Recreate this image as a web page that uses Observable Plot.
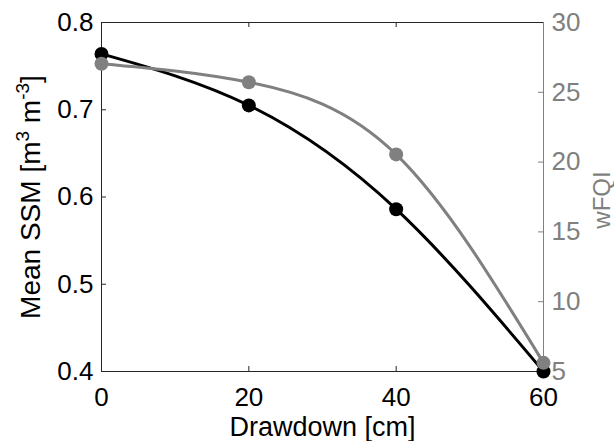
<!DOCTYPE html>
<html>
<head>
<meta charset="utf-8">
<script src="https://cdn.jsdelivr.net/npm/d3@7"></script>
<script src="https://cdn.jsdelivr.net/npm/@observablehq/plot@0.6"></script>
<style>
  html, body { margin: 0; padding: 0; background: #fff; }
  #chart { width: 614px; height: 441px; }
</style>
</head>
<body>
<div id="chart"></div>
<script>
// ---- data ----
const drawdown = [0, 20, 40, 60];
const ssm = [0.764, 0.705, 0.586, 0.400];
const wfqi = [27.05, 25.72, 20.55, 5.62];
const xTicks = [0, 20, 40, 60];
const ssmTicks = [0.4, 0.5, 0.6, 0.7, 0.8];
const wfqiTicks = [5, 10, 15, 20, 25, 30];
const xLabel = "Drawdown [cm]";
const yLabel = "Mean SSM [m3 m-3]";
const y2Label = "wFQI";

// dual-axis mapping: wFQI domain [5,30] onto SSM domain [0.4,0.8]
const ssmDomain = [0.4, 0.8];
const wDomain = [5, 30];
const toL = w => ssmDomain[0] + (w - wDomain[0]) * (ssmDomain[1] - ssmDomain[0]) / (wDomain[1] - wDomain[0]);
const fromL = v => wDomain[0] + (v - ssmDomain[0]) * (wDomain[1] - wDomain[0]) / (ssmDomain[1] - ssmDomain[0]);

const blackData = drawdown.map((d, i) => ({x: d, y: ssm[i]}));
const grayData = drawdown.map((d, i) => ({x: d, y: toL(wfqi[i])}));

const DARK = "#262626";
const GRAY = "#808080";
const W = 614, H = 441, mL = 101, mR = 71, mT = 22, mB = 70;
const pw = W - mL - mR, ph = H - mT - mB;
const tl = 5;

const chart = Plot.plot({
  width: W, height: H,
  marginLeft: mL, marginRight: mR, marginTop: mT, marginBottom: mB,
  style: {fontFamily: "'Liberation Sans', Arial, sans-serif", fontSize: "26px", background: "#fff", color: DARK},
  x: {domain: [0, 60]},
  y: {domain: ssmDomain},
  marks: [
    // frame
    Plot.ruleY([ssmDomain[0], ssmDomain[1]], {stroke: DARK, strokeWidth: 1}),
    Plot.ruleX([0], {stroke: DARK, strokeWidth: 1}),
    Plot.ruleX([60], {stroke: GRAY, strokeWidth: 1}),
    // inward ticks
    Plot.tickX(xTicks.slice(1, -1), {x: d => d, insetTop: ph - tl, stroke: DARK}),
    Plot.tickX(xTicks.slice(1, -1), {x: d => d, insetBottom: ph - tl, stroke: DARK}),
    Plot.tickY(ssmTicks.slice(1, -1), {y: d => d, insetRight: pw - tl, stroke: DARK}),
    Plot.tickY(wfqiTicks.slice(1, -1).map(toL), {y: d => d, insetLeft: pw - tl, stroke: GRAY}),
    // axes labels
    Plot.axisX(xTicks, {tickSize: 0, tickPadding: 16, label: null, color: "#000", fontSize: 26}),
    Plot.axisY(ssmTicks, {anchor: "left", tickSize: 0, tickPadding: 8, label: null, color: "#000", fontSize: 26, tickFormat: d3.format(".1f")}),
    Plot.axisY(wfqiTicks.map(toL), {anchor: "right", tickSize: 0, tickPadding: 8, label: null, color: GRAY, fontSize: 26, tickFormat: v => String(Math.round(fromL(v)))}),
    Plot.text([xLabel], {frameAnchor: "bottom", textAnchor: "middle", lineAnchor: "top", dy: 45, fontSize: 27, fill: "#000", text: d => d}),
    Plot.text([yLabel], {frameAnchor: "left", textAnchor: "middle", lineAnchor: "top", rotate: -90, dx: -81, fontSize: 28, fill: "#000", text: d => d}),
    Plot.text([y2Label], {frameAnchor: "right", textAnchor: "middle", lineAnchor: "top", rotate: -90, dx: 49, dy: 3, fontSize: 24, fill: GRAY, text: d => d}),
    // series
    Plot.line(blackData, {x: "x", y: "y", stroke: "#000", strokeWidth: 3, curve: "natural"}),
    Plot.dot(blackData, {x: "x", y: "y", r: 7, fill: "#000", stroke: "none"}),
    Plot.line(grayData, {x: "x", y: "y", stroke: GRAY, strokeWidth: 3, curve: "natural"}),
    Plot.dot(grayData, {x: "x", y: "y", r: 7, fill: GRAY, stroke: "none"})
  ]
});
document.getElementById("chart").appendChild(chart);

// superscripts in the left axis title
d3.select(chart).selectAll("text").each(function() {
  if (this.textContent === yLabel) {
    const t = d3.select(this);
    t.text(null);
    t.append("tspan").text("Mean SSM [m");
    t.append("tspan").attr("dy", "-11").attr("font-size", "19").text("3");
    t.append("tspan").attr("dy", "11").text(" m");
    t.append("tspan").attr("dy", "-11").attr("font-size", "19").text("-3");
    t.append("tspan").attr("dy", "11").text("]");
  }
});
</script>
</body>
</html>
